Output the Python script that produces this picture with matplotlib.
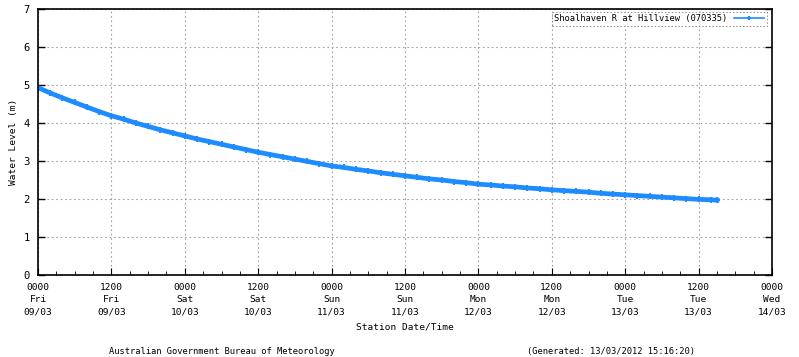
#!/usr/bin/env python3
# -*- coding: utf-8 -*-
"""
plot.py

Water level at Shoalhaven R at Hillview, 9-13 March 2012
"""

import matplotlib.pyplot as plt
import numpy as np

# Hours since 0000 Fri 09/03
hours = [0, 2, 4, 6, 8, 10, 12, 14, 16, 18, 20, 22, 24, 26, 28, 30, 32, 34,
         36, 38, 40, 42, 44, 46, 48, 50, 52, 54, 56, 58, 60, 62, 64, 66, 68,
         70, 72, 74, 76, 78, 80, 82, 84, 86, 88, 90, 92, 94, 96, 98, 100, 102,
         104, 106, 108, 110, 111]
level = [4.93, 4.79, 4.66, 4.54, 4.42, 4.30, 4.19, 4.10, 4.00, 3.91, 3.82,
         3.74, 3.66, 3.58, 3.51, 3.44, 3.37, 3.30, 3.23, 3.17, 3.11, 3.05,
         2.99, 2.93, 2.87, 2.83, 2.78, 2.74, 2.69, 2.65, 2.61, 2.57, 2.53,
         2.50, 2.46, 2.43, 2.39, 2.37, 2.34, 2.32, 2.29, 2.27, 2.24, 2.22,
         2.20, 2.18, 2.15, 2.13, 2.11, 2.09, 2.07, 2.05, 2.03, 2.01, 1.99,
         1.98, 1.97]

tick_hours = [0, 12, 24, 36, 48, 60, 72, 84, 96, 108, 120]
tick_labels = ["0000\nFri\n09/03", "1200\nFri\n09/03", "0000\nSat\n10/03",
               "1200\nSat\n10/03", "0000\nSun\n11/03", "1200\nSun\n11/03",
               "0000\nMon\n12/03", "1200\nMon\n12/03", "0000\nTue\n13/03",
               "1200\nTue\n13/03", "0000\nWed\n14/03"]

plt.rcParams["font.family"] = "DejaVu Sans Mono"
fs = 6.8
fs_small = 6.3

fig = plt.figure(figsize=(7.99, 3.57), dpi=100)
ax = fig.add_axes([0.0476, 0.2297, 0.9186, 0.7451])

blue = "#1E8CFF"
ax.plot(hours, level, color=blue, lw=3.4, marker="+", ms=5, mew=1.5,
        label="Shoalhaven R at Hillview (070335)")

ax.set_xlim(0, 120)
ax.set_ylim(0, 7)
ax.set_xticks(tick_hours)
ax.set_xticklabels(tick_labels, fontsize=fs, linespacing=1.45)
ax.set_xticks(np.arange(0, 121, 3), minor=True)
ax.set_yticks(range(8))
ax.tick_params(axis="y", labelsize=fs + 0.8, direction="in", right=True,
               length=5, width=1, pad=6)
ax.tick_params(axis="x", which="major", direction="in", length=5, pad=6)
ax.tick_params(axis="x", which="minor", direction="in", length=3)

ax.grid(True, color="#A0A0A0", linestyle=(0, (1.5, 2.5)), linewidth=0.8)
for s in ax.spines.values():
    s.set_linewidth(1.2)

ax.set_ylabel("Water Level (m)", fontsize=fs, labelpad=4)
ax.set_xlabel("Station Date/Time", fontsize=fs, labelpad=4)

leg = ax.legend(loc="upper right", fontsize=fs_small, fancybox=False,
                borderpad=0.3, handlelength=3.4, markerscale=0.6,
                markerfirst=False, bbox_to_anchor=(0.993, 0.99),
                borderaxespad=0)
frame = leg.get_frame()
frame.set_edgecolor("#707070")
frame.set_linestyle((0, (1.5, 2)))
frame.set_linewidth(0.7)
for h in leg.get_lines():
    h.set_linewidth(1.2)

fig.text(0.278, 0.008, "Australian Government Bureau of Meteorology",
         fontsize=fs_small, ha="center")
fig.text(0.765, 0.008, "(Generated: 13/03/2012 15:16:20)",
         fontsize=fs_small, ha="center")

fig.savefig("out.png", dpi=100)
